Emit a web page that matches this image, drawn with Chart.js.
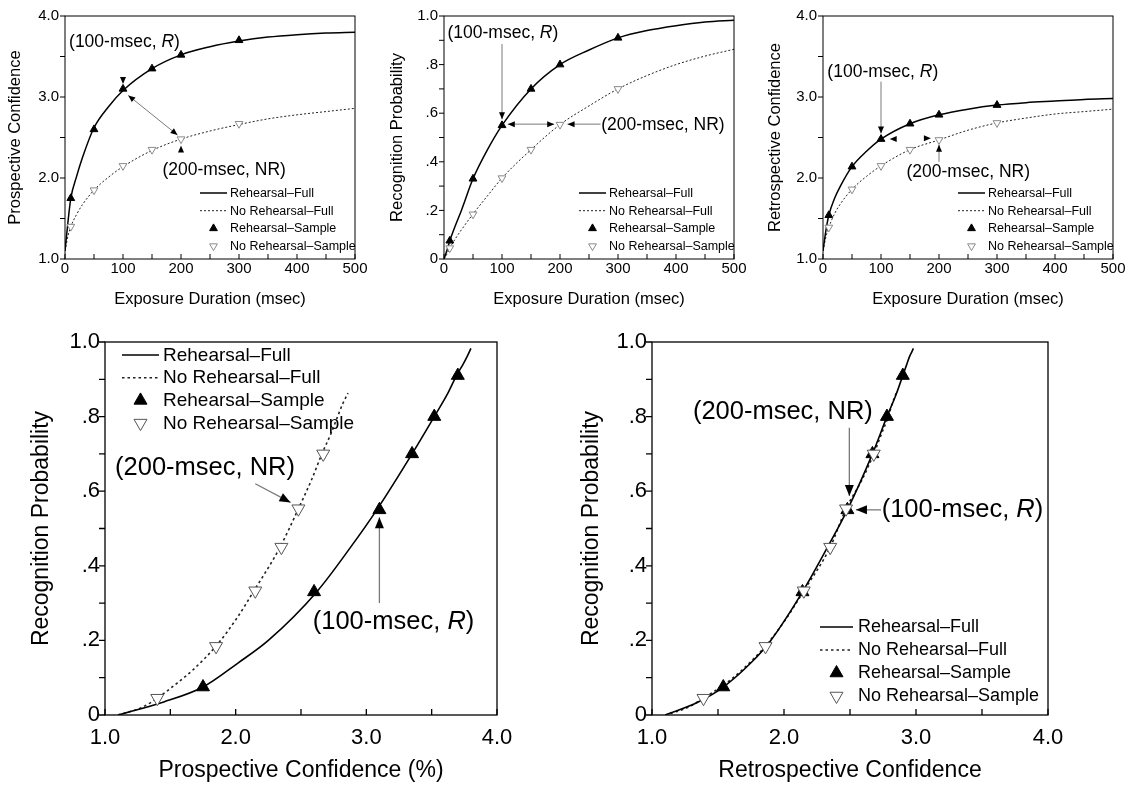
<!DOCTYPE html>
<html>
<head>
<meta charset="utf-8">
<script src="https://cdn.jsdelivr.net/npm/chart.js@4.4.1/dist/chart.umd.min.js"></script>
<style>
  html, body { margin: 0; padding: 0; background: #fff; }
  #wrap { position: relative; width: 1134px; height: 787px; }
  canvas { position: absolute; }
</style>
</head>
<body>
<div id="wrap">
  <canvas id="c1" width="378" height="312" style="left:0;top:0"></canvas>
  <canvas id="c2" width="378" height="312" style="left:378px;top:0"></canvas>
  <canvas id="c3" width="378" height="312" style="left:756px;top:0"></canvas>
  <canvas id="c4" width="567" height="475" style="left:0;top:312px"></canvas>
  <canvas id="c5" width="567" height="475" style="left:567px;top:312px"></canvas>
</div>
<script>
// fitted curves, read at these exposure durations
const durations   = [0, 5, 10, 20, 30, 50, 75, 100, 150, 200, 250, 300, 350, 400, 450, 500];
const prospRFull  = [1.1, 1.45, 1.75, 2.02, 2.25, 2.62, 2.88, 3.08, 3.35, 3.52, 3.62, 3.69, 3.74, 3.77, 3.79, 3.80];
const prospNRFull = [1.1, 1.28, 1.4, 1.55, 1.67, 1.85, 2.01, 2.14, 2.34, 2.48, 2.58, 2.66, 2.73, 2.78, 2.82, 2.86];
const recogRFull  = [0, 0.035, 0.075, 0.14, 0.2, 0.33, 0.45, 0.55, 0.70, 0.80, 0.86, 0.91, 0.94, 0.96, 0.975, 0.983];
const recogNRFull = [0, 0.02, 0.045, 0.085, 0.12, 0.185, 0.26, 0.333, 0.45, 0.553, 0.63, 0.70, 0.755, 0.80, 0.835, 0.863];
const retroRFull  = [1.1, 1.35, 1.54, 1.75, 1.9, 2.14, 2.33, 2.48, 2.67, 2.78, 2.85, 2.90, 2.93, 2.95, 2.97, 2.98];
const retroNRFull = [1.1, 1.27, 1.39, 1.56, 1.68, 1.86, 2.02, 2.15, 2.35, 2.47, 2.59, 2.68, 2.74, 2.79, 2.82, 2.85];

// sample points
const sampleDurations = [10, 50, 100, 150, 200, 300];
const prospRSample  = [1.75, 2.6, 3.1, 3.35, 3.52, 3.7];
const prospNRSample = [1.4, 1.85, 2.15, 2.35, 2.48, 2.67];
const recogRSample  = [0.075, 0.33, 0.55, 0.70, 0.80, 0.91];
const recogNRSample = [0.045, 0.184, 0.333, 0.45, 0.553, 0.70];
const retroRSample  = [1.54, 2.14, 2.48, 2.67, 2.78, 2.90];
const retroNRSample = [1.39, 1.86, 2.15, 2.35, 2.47, 2.68];

const seriesNames = ['Rehearsal–Full', 'No Rehearsal–Full', 'Rehearsal–Sample', 'No Rehearsal–Sample'];

const durTickValues  = [0, 100, 200, 300, 400, 500];
const durTickLabels  = ['0', '100', '200', '300', '400', '500'];
const confTickValues = [1, 2, 3, 4];
const confTickLabels = ['1.0', '2.0', '3.0', '4.0'];
const probTickValues = [0, 0.2, 0.4, 0.6, 0.8, 1];
const probTickLabels = ['0', '.2', '.4', '.6', '.8', '1.0'];

const FONT = 'Liberation Sans, Arial, Helvetica, sans-serif';
Chart.defaults.font.family = FONT;
Chart.defaults.color = '#000';

const pairs = (xs, ys) => xs.map((x, i) => ({ x: x, y: ys[i] }));
const labeler = (vals, labels) => value => {
  const i = vals.findIndex(v => Math.abs(v - value) < 1e-6);
  return i >= 0 ? labels[i] : '';
};

function tri(ctx, x, y, r, down, fill, stroke) {
  ctx.save();
  ctx.translate(x, y);
  if (down) ctx.rotate(Math.PI);
  ctx.beginPath();
  for (let k = 0; k < 3; k++) {
    const a = k * 2 * Math.PI / 3;
    const px = Math.sin(a) * r, py = -Math.cos(a) * r;
    if (k === 0) ctx.moveTo(px, py); else ctx.lineTo(px, py);
  }
  ctx.closePath();
  ctx.fillStyle = fill; ctx.fill();
  ctx.strokeStyle = stroke; ctx.lineWidth = 1; ctx.stroke();
  ctx.restore();
}

function head(ctx, x, y, ang, len, w) {
  ctx.save();
  ctx.translate(x, y);
  ctx.rotate(ang);
  ctx.beginPath();
  ctx.moveTo(0, 0);
  ctx.lineTo(-len, -w);
  ctx.lineTo(-len, w);
  ctx.closePath();
  ctx.fillStyle = '#000';
  ctx.fill();
  ctx.restore();
}

const decor = {
  id: 'decor',
  afterDatasetsDraw(chart, args, o) {
    const { ctx, chartArea: a, scales } = chart;
    const sx = scales.x, sy = scales.y;
    ctx.save();
    // frame
    ctx.strokeStyle = '#000';
    ctx.lineWidth = o.frame;
    ctx.strokeRect(a.left, a.top, a.right - a.left, a.bottom - a.top);
    // ticks: x inward, y outward
    ctx.beginPath();
    sx.ticks.forEach(t => {
      const p = sx.getPixelForValue(t.value);
      ctx.moveTo(p, a.bottom); ctx.lineTo(p, a.bottom - o.tick);
    });
    sy.ticks.forEach(t => {
      const p = sy.getPixelForValue(t.value);
      ctx.moveTo(a.left, p); ctx.lineTo(a.left - o.tick, p);
    });
    ctx.stroke();

    // legend
    const L = o.legend;
    const bx = (L.ax === 'right' ? a.right : a.left) + L.dx;
    const by = (L.ay === 'bottom' ? a.bottom : a.top) + L.dy;
    const ds = chart.data.datasets;
    ctx.font = L.size + 'px ' + FONT;
    ctx.textBaseline = 'middle';
    ctx.textAlign = 'left';
    ctx.fillStyle = '#000';
    seriesNames.forEach((name, i) => {
      const y = by + i * L.rowH;
      const mx = bx + L.lineLen / 2;
      if (i === 0 || i === 1) {
        const d = ds[i === 0 ? 2 : 3];
        ctx.save();
        ctx.strokeStyle = d.borderColor;
        ctx.lineWidth = d.borderWidth;
        ctx.setLineDash(d.borderDash || []);
        ctx.beginPath(); ctx.moveTo(bx, y); ctx.lineTo(bx + L.lineLen, y); ctx.stroke();
        ctx.restore();
      } else if (i === 2) {
        tri(ctx, mx, y, o.mk, false, '#000', '#000');
      } else {
        tri(ctx, mx, y, o.mk, true, '#fff', o.openColor);
      }
      ctx.fillStyle = '#000';
      ctx.fillText(name, bx + L.lineLen + L.gap, y + 0.5);
    });

    // annotations
    o.notes.forEach(n => {
      if (n.type === 'text') {
        let x = sx.getPixelForValue(n.x);
        const y = sy.getPixelForValue(n.y);
        n.parts.forEach(p => {
          ctx.font = (p.i ? 'italic ' : '') + o.noteSize + 'px ' + FONT;
          ctx.fillStyle = '#000';
          ctx.fillText(p.t, x, y);
          x += ctx.measureText(p.t).width;
        });
      } else if (n.type === 'arrow') {
        const x1 = sx.getPixelForValue(n.x1), y1 = sy.getPixelForValue(n.y1);
        const x2 = sx.getPixelForValue(n.x2), y2 = sy.getPixelForValue(n.y2);
        const ang = Math.atan2(y2 - y1, x2 - x1);
        ctx.strokeStyle = '#7a7a7a';
        ctx.lineWidth = o.shaft;
        ctx.setLineDash([]);
        ctx.beginPath(); ctx.moveTo(x1, y1); ctx.lineTo(x2, y2); ctx.stroke();
        head(ctx, x2, y2, ang, o.headLen, o.headW);
        if (n.both) head(ctx, x1, y1, ang + Math.PI, o.headLen, o.headW);
      } else if (n.type === 'head') {
        const angs = { right: 0, down: Math.PI / 2, left: Math.PI, up: -Math.PI / 2 };
        head(ctx, sx.getPixelForValue(n.x), sy.getPixelForValue(n.y), angs[n.dir], o.headLen, o.headW);
      }
    });
    ctx.restore();
  }
};

const R100 = [{ t: '(100-msec, ' }, { t: 'R', i: true }, { t: ')' }];
const NR200 = [{ t: '(200-msec, NR)' }];

function buildChart(id, c) {
  return new Chart(document.getElementById(id), {
    type: 'scatter',
    data: {
      datasets: [
        { label: seriesNames[3], data: c.nrSample, showLine: false, pointStyle: 'triangle', rotation: 180,
          pointRadius: c.mk, pointBackgroundColor: '#fff', pointBorderColor: c.openColor, pointBorderWidth: 1 },
        { label: seriesNames[2], data: c.rSample, showLine: false, pointStyle: 'triangle',
          pointRadius: c.mk, pointBackgroundColor: '#000', pointBorderColor: '#000', pointBorderWidth: 1 },
        { label: seriesNames[0], data: c.rFull, showLine: true, pointRadius: 0, borderColor: '#000',
          borderWidth: c.lw, cubicInterpolationMode: 'monotone' },
        { label: seriesNames[1], data: c.nrFull, showLine: true, pointRadius: 0, borderColor: '#222',
          borderWidth: c.dw, borderDash: c.dash, cubicInterpolationMode: 'monotone' }
      ]
    },
    options: {
      responsive: false,
      animation: false,
      events: [],
      layout: { padding: { left: 0, top: c.padTop, right: c.padRight, bottom: 0 } },
      plugins: {
        legend: { display: false },
        tooltip: { enabled: false },
        decor: {
          frame: c.frame, tick: c.tick, mk: c.mk, openColor: c.openColor,
          legend: c.legend, notes: c.notes, noteSize: c.noteSize,
          shaft: c.shaft, headLen: c.headLen, headW: c.headW
        }
      },
      scales: {
        x: {
          type: 'linear', min: c.xMin, max: c.xMax,
          grid: { display: false, drawTicks: false }, border: { display: false },
          ticks: { stepSize: c.xStep, autoSkip: false, maxRotation: 0, minRotation: 0,
                   padding: c.xPad, font: { size: c.tickSize }, color: '#000',
                   callback: c.xLabel },
          title: { display: true, text: c.xTitle, font: { size: c.titleSize }, color: '#000',
                   padding: { top: 0, bottom: c.xTitlePad } },
          afterFit: s => { s.height = c.xH; }
        },
        y: {
          type: 'linear', min: c.yMin, max: c.yMax,
          grid: { display: false, drawTicks: false }, border: { display: false },
          ticks: { stepSize: c.yStep, autoSkip: false, padding: c.yPad, font: { size: c.tickSize },
                   color: '#000', callback: c.yLabel },
          title: { display: true, text: c.yTitle, font: { size: c.titleSize }, color: '#000',
                   padding: { top: c.yTitlePad, bottom: 0 } },
          afterFit: s => { s.width = c.yW; }
        }
      }
    },
    plugins: [decor]
  });
}

const topBase = {
  xMin: 0, xMax: 500, xStep: 50, xLabel: labeler(durTickValues, durTickLabels),
  xTitle: 'Exposure Duration (msec)', xH: 53, xPad: 1, xTitlePad: 3,
  padTop: 16, tickSize: 15, titleSize: 16.5, yPad: 6,
  mk: 4.5, openColor: '#8a8a8a', lw: 1.5, dw: 1, dash: [2, 2],
  frame: 1, tick: 5, noteSize: 17.5, shaft: 1, headLen: 7, headW: 3,
  legend: { ax: 'right', ay: 'bottom', dx: -155, dy: -66, lineLen: 27, gap: 3, rowH: 17.7, size: 12.5 }
};
const confY = { yMin: 1, yMax: 4, yStep: 0.5, yLabel: labeler(confTickValues, confTickLabels) };
const probY = { yMin: 0, yMax: 1, yStep: 0.1, yLabel: labeler(probTickValues, probTickLabels) };

buildChart('c1', Object.assign({}, topBase, confY, {
  yTitle: 'Prospective Confidence', yW: 65, padRight: 23, yTitlePad: 5.8,
  rFull: pairs(durations, prospRFull), nrFull: pairs(durations, prospNRFull),
  rSample: pairs(sampleDurations, prospRSample), nrSample: pairs(sampleDurations, prospNRSample),
  notes: [
    { type: 'text', x: 7, y: 3.68, parts: R100 },
    { type: 'head', x: 100, y: 3.16, dir: 'down' },
    { type: 'arrow', x1: 109, y1: 3.02, x2: 194, y2: 2.53, both: true },
    { type: 'head', x: 200, y: 2.40, dir: 'up' },
    { type: 'text', x: 168, y: 2.10, parts: NR200 }
  ]
}));

buildChart('c2', Object.assign({}, topBase, probY, {
  yTitle: 'Recognition Probability', yW: 66, padRight: 22, yTitlePad: 9.6,
  rFull: pairs(durations, recogRFull), nrFull: pairs(durations, recogNRFull),
  rSample: pairs(sampleDurations, recogRSample), nrSample: pairs(sampleDurations, recogNRSample),
  notes: [
    { type: 'text', x: 6, y: 0.93, parts: R100 },
    { type: 'arrow', x1: 100, y1: 0.885, x2: 100, y2: 0.575 },
    { type: 'arrow', x1: 110, y1: 0.555, x2: 190, y2: 0.555, both: true },
    { type: 'arrow', x1: 270, y1: 0.555, x2: 213, y2: 0.555 },
    { type: 'text', x: 271, y: 0.551, parts: NR200 }
  ]
}));

buildChart('c3', Object.assign({}, topBase, confY, {
  yTitle: 'Retrospective Confidence', yW: 67, padRight: 21, yTitlePad: 9.8,
  rFull: pairs(durations, retroRFull), nrFull: pairs(durations, retroNRFull),
  rSample: pairs(sampleDurations, retroRSample), nrSample: pairs(sampleDurations, retroNRSample),
  notes: [
    { type: 'text', x: 7.5, y: 3.31, parts: R100 },
    { type: 'arrow', x1: 100, y1: 3.19, x2: 100, y2: 2.55 },
    { type: 'head', x: 115, y: 2.48, dir: 'left' },
    { type: 'head', x: 186, y: 2.49, dir: 'right' },
    { type: 'arrow', x1: 200, y1: 2.2, x2: 200, y2: 2.41 },
    { type: 'text', x: 144, y: 2.07, parts: NR200 }
  ]
}));

const botBase = Object.assign({}, probY, {
  xMin: 1, xMax: 4, xStep: 0.5, xLabel: labeler(confTickValues, confTickLabels),
  xH: 72, xPad: 10, xTitlePad: 3, padTop: 30, padRight: 70,
  tickSize: 22, titleSize: 23, yPad: 5,
  mk: 7.5, openColor: '#555', lw: 1.6, dw: 1.6, dash: [2.5, 3],
  frame: 1.3, tick: 6, noteSize: 25.5, shaft: 1.3, headLen: 11, headW: 4.5
});

buildChart('c4', Object.assign({}, botBase, {
  xTitle: 'Prospective Confidence (%)', yTitle: 'Recognition Probability', yW: 105, yTitlePad: 28,
  rFull: pairs(prospRFull, recogRFull), nrFull: pairs(prospNRFull, recogNRFull),
  rSample: pairs(prospRSample, recogRSample), nrSample: pairs(prospNRSample, recogNRSample),
  legend: { ax: 'left', ay: 'top', dx: 17, dy: 13, lineLen: 37, gap: 4, rowH: 22.7, size: 19 },
  notes: [
    { type: 'text', x: 1.077, y: 0.662, parts: NR200 },
    { type: 'arrow', x1: 2.15, y1: 0.62, x2: 2.42, y2: 0.57 },
    { type: 'text', x: 2.59, y: 0.25, parts: R100 },
    { type: 'arrow', x1: 3.1, y1: 0.30, x2: 3.1, y2: 0.53 }
  ]
}));

buildChart('c5', Object.assign({}, botBase, {
  xTitle: 'Retrospective Confidence', yTitle: 'Recognition Probability', yW: 85, padRight: 86, yTitlePad: 11,
  rFull: pairs(retroRFull, recogRFull), nrFull: pairs(retroNRFull, recogNRFull),
  rSample: pairs(retroRSample, recogRSample), nrSample: pairs(retroNRSample, recogNRSample),
  legend: { ax: 'left', ay: 'bottom', dx: 168, dy: -88, lineLen: 33, gap: 5, rowH: 23, size: 18 },
  notes: [
    { type: 'text', x: 1.31, y: 0.813, parts: NR200 },
    { type: 'arrow', x1: 2.495, y1: 0.77, x2: 2.495, y2: 0.587 },
    { type: 'text', x: 2.74, y: 0.55, parts: R100 },
    { type: 'arrow', x1: 2.735, y1: 0.55, x2: 2.545, y2: 0.55 }
  ]
}));
</script>
</body>
</html>
